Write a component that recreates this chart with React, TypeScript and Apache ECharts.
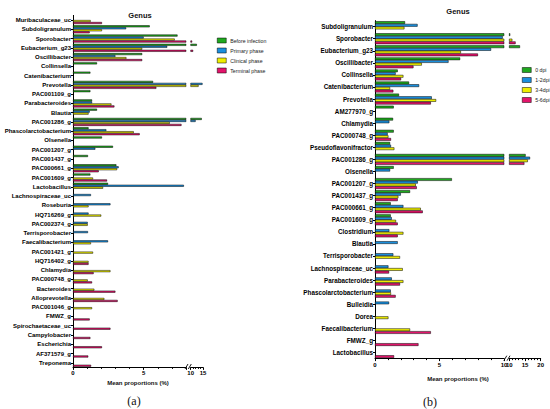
import { useEffect, useRef } from 'react';
import * as echarts from 'echarts';

// panel (a): genera across infection phases
const genusA = [
  'Muribaculaceae_uc', 'Subdoligranulum', 'Sporobacter', 'Eubacterium_g23', 'Oscillibacter',
  'Collinsella', 'Catenibacterium', 'Prevotella', 'PAC001109_g', 'Parabacteroides',
  'Blautia', 'PAC001286_g', 'Phascolarctobacterium', 'Olsenella', 'PAC001207_g',
  'PAC001437_g', 'PAC000661_g', 'PAC001609_g', 'Lactobacillus', 'Lachnospiraceae_uc',
  'Roseburia', 'HQ716269_g', 'PAC002374_g', 'Terrisporobacter', 'Faecalibacterium',
  'PAC001421_g', 'HQ716402_g', 'Chlamydia', 'PAC000748_g', 'Bacteroides',
  'Alloprevotella', 'PAC001046_g', 'FMWZ_g', 'Spirochaetaceae_uc', 'Campylobacter',
  'Escherichia', 'AF371579_g', 'Treponema',
];
const beforeInfection = [
  null, 5.43, 7.4, 12.5, 4.9, 1.7, 1.23, 5.67, 1.23, 1.35,
  1.7, 14.5, 1.1, 2.05, 2.83, 1.06, 3.07, 1.23, 2.48, null,
  null, null, null, null, null, null, null, null, null, null,
  null, null, null, null, null, null, null, null,
];
const primaryPhase = [
  null, 3.76, 5.0, 6.67, 3.0, null, null, 14.8, null, 1.35,
  1.18, 12.0, 2.36, null, 1.58, null, 3.23, null, 7.85, 1.27,
  2.65, 1.1, 1.04, 1.06, 2.48, null, null, null, null, null,
  null, null, null, null, null, null, null, null,
];
const clinicalPhase = [
  1.25, 2.05, 7.2, 4.9, 3.78, null, null, 13.2, null, 2.72,
  1.1, 6.85, 4.3, null, null, null, 3.12, 1.42, 2.13, null,
  1.1, 2.0, 1.04, null, 1.27, 1.42, 1.1, 2.65, 1.04, 1.51,
  2.22, 1.35, null, null, null, null, null, null,
];
const terminalPhase = [
  2.05, 1.18, 10.6, 11.0, 4.9, null, null, 5.9, null, 2.93,
  null, 7.68, 4.72, null, null, null, 1.82, 2.41, null, null,
  null, null, null, null, null, null, 1.1, 1.46, 1.35, 3.0,
  3.16, null, 1.18, 2.65, 1.23, 2.05, 1.08, 1.28,
];

// panel (b): genera across days post infection
const genusB = [
  'Subdoligranulum', 'Sporobacter', 'Eubacterium_g23', 'Oscillibacter', 'Collinsella',
  'Catenibacterium', 'Prevotella', 'AM277970_g', 'Chlamydia', 'PAC000748_g',
  'Pseudoflavonifractor', 'PAC001286_g', 'Olsenella', 'PAC001207_g', 'PAC001437_g',
  'PAC000661_g', 'PAC001609_g', 'Clostridium', 'Blautia', 'Terrisporobacter',
  'Lachnospiraceae_uc', 'Parabacteroides', 'Phascolarctobacterium', 'Bulleidia', 'Dorea',
  'Faecalibacterium', 'FMWZ_g', 'Lactobacillus',
];
const dpi0 = [
  2.33, 10.3, 13.4, 6.6, 1.76, 2.64, 1.86, 1.45, 1.4, 1.45,
  1.17, 15.2, 1.45, 5.96, 2.72, 1.22, 1.22, null, null, null,
  null, null, null, null, null, null, null, null,
];
const dpi12 = [
  3.3, 9.9, 9.0, 5.7, 1.6, 3.42, 4.4, null, 1.11, 0.98,
  1.24, 16.6, 1.17, 3.32, 2.0, 2.2, 1.3, 1.11, 1.76, 1.42,
  1.04, 1.3, 1.22, 1.09, null, null, null, null,
];
const dpi34 = [
  2.28, 10.96, 6.66, 3.63, 2.2, 1.17, 4.74, null, null, 1.04,
  1.5, 15.9, null, 3.16, 1.81, 3.55, 1.63, 2.2, null, 1.94,
  2.15, 2.2, 1.24, null, 1.04, 2.72, null, null,
];
const dpi56 = [
  null, 12.0, 7.98, 2.98, 2.02, 1.42, 4.33, null, null, 1.24,
  null, 14.8, null, 3.24, 1.76, 3.7, 1.76, 1.76, null, null,
  1.09, 1.94, 1.6, null, null, 4.33, 3.37, 1.48,
];

const phasesA = ['Before infection', 'Primary phase', 'Clinical phase', 'Terminal phase'];
const phasesB = ['0 dpi', '1-2dpi', '3-4dpi', '5-6dpi'];
const barColors = ['#1fa91f', '#1a8fdd', '#eeee00', '#e3146b'];

const FONT = 'Liberation Sans, Arial, sans-serif';

const App = () => {
  const chartRef = useRef<HTMLDivElement>(null);

  useEffect(() => {
    if (!chartRef.current) return;
    const chart = echarts.init(chartRef.current, undefined, { renderer: 'svg' });

    const makeBars = (
      names: string[],
      groups: (number | null)[][],
      x1: number,
      x2: number,
      y1: number,
      y2: number,
      low: number,
      gap: string,
    ) => {
      const out: any[] = [];
      groups.forEach((vals, i) => {
        const common = {
          name: names[i],
          type: 'bar',
          barGap: '0%',
          barCategoryGap: gap,
          clip: true,
          itemStyle: { color: barColors[i], borderColor: '#000', borderWidth: 0.5 },
        };
        out.push({
          ...common,
          xAxisIndex: x1,
          yAxisIndex: y1,
          data: vals.map((v) => (v == null ? '-' : v)),
        });
        out.push({
          ...common,
          xAxisIndex: x2,
          yAxisIndex: y2,
          data: vals.map((v) => (v != null && v > low ? v : '-')),
        });
      });
      return out;
    };

    const catAxis = (gridIndex: number, data: string[], show: boolean, fontSize: number) => ({
      type: 'category',
      gridIndex,
      data,
      inverse: true,
      show,
      axisLine: { show: true, lineStyle: { color: '#000', width: 1 } },
      axisTick: { show: true, alignWithLabel: true, length: 2, lineStyle: { color: '#000' } },
      axisLabel: {
        fontFamily: FONT,
        fontWeight: 'bold',
        fontSize,
        color: '#000',
        margin: 2,
        interval: 0,
      },
    });

    const valAxis = (gridIndex: number, min: number, max: number) => ({
      type: 'value',
      gridIndex,
      min,
      max,
      interval: 5,
      splitLine: { show: false },
      axisLine: { show: true, onZero: false, lineStyle: { color: '#000', width: 1 } },
      axisTick: { show: true, length: 2.5, lineStyle: { color: '#000' } },
      minorTick: { show: true, splitNumber: 5, length: 1.5, lineStyle: { color: '#000' } },
      axisLabel: {
        fontFamily: FONT,
        fontWeight: 'bold',
        fontSize: 6,
        color: '#000',
        margin: 3,
        showMaxLabel: max % 5 === 0,
      },
    });

    const legend = (data: string[], left: number, top: number) => ({
      data,
      left,
      top,
      orient: 'vertical',
      icon: 'rect',
      itemWidth: 9,
      itemHeight: 5,
      itemGap: 4,
      itemStyle: { borderWidth: 0.5, borderColor: '#000' },
      textStyle: { fontFamily: FONT, fontSize: 5.2, lineHeight: 6, color: '#222', padding: [0, 0, 0, -1] },
      selectedMode: false,
    });

    const slash = (x: number, y: number) => ({
      type: 'line',
      shape: { x1: x, y1: y + 2.5, x2: x + 3, y2: y - 2.5 },
      style: { stroke: '#000', lineWidth: 0.9 },
    });

    const text = (x: number, y: number, t: string, size: number, family = FONT, weight = 'bold') => ({
      type: 'text',
      x,
      y,
      style: {
        text: t,
        fontFamily: family,
        fontSize: size,
        fontWeight: weight,
        fill: '#111',
        align: 'center',
        verticalAlign: 'middle',
      },
    });

    const option: any = {
      animation: false,
      backgroundColor: '#fff',
      grid: [
        { left: 73, top: 15.4, width: 113, height: 352 },
        { left: 190.7, top: 15.4, width: 12.3, height: 352 },
        { left: 375, top: 20.6, width: 129, height: 338 },
        { left: 509.3, top: 20.6, width: 31.4, height: 338 },
      ],
      xAxis: [valAxis(0, 0, 8), valAxis(1, 10, 15), valAxis(2, 0, 10), valAxis(3, 10, 20)],
      yAxis: [
        catAxis(0, genusA, true, 6),
        catAxis(1, genusA, false, 6),
        catAxis(2, genusB, true, 6.3),
        catAxis(3, genusB, false, 6.3),
      ],
      legend: [legend(phasesA, 212, 32.5), legend(phasesB, 517, 62)],
      series: [
        ...makeBars(phasesA, [beforeInfection, primaryPhase, clinicalPhase, terminalPhase], 0, 1, 0, 1, 10, '14%'),
        ...makeBars(phasesB, [dpi0, dpi12, dpi34, dpi56], 2, 3, 2, 3, 10, '10%'),
      ],
      graphic: [
        text(140, 15, 'Genus', 7.5),
        text(458, 11, 'Genus', 7.5),
        text(138, 383, 'Mean proportions (%)', 6),
        text(458, 378.5, 'Mean proportions (%)', 6),
        text(134, 401, '(a)', 12, 'Liberation Serif, Times New Roman, serif', 'normal'),
        text(430, 401.5, '(b)', 12, 'Liberation Serif, Times New Roman, serif', 'normal'),
        slash(185, 366.5),
        slash(188.3, 366.5),
        slash(503.8, 358.2),
        slash(507, 358.2),
      ],
    };

    chart.setOption(option);
    return () => {
      chart.dispose();
    };
  }, []);

  return (
    <div
      ref={chartRef}
      style={{ position: 'fixed', left: 0, top: 0, width: 550, height: 409, background: '#fff' }}
    />
  );
};

export default App;
